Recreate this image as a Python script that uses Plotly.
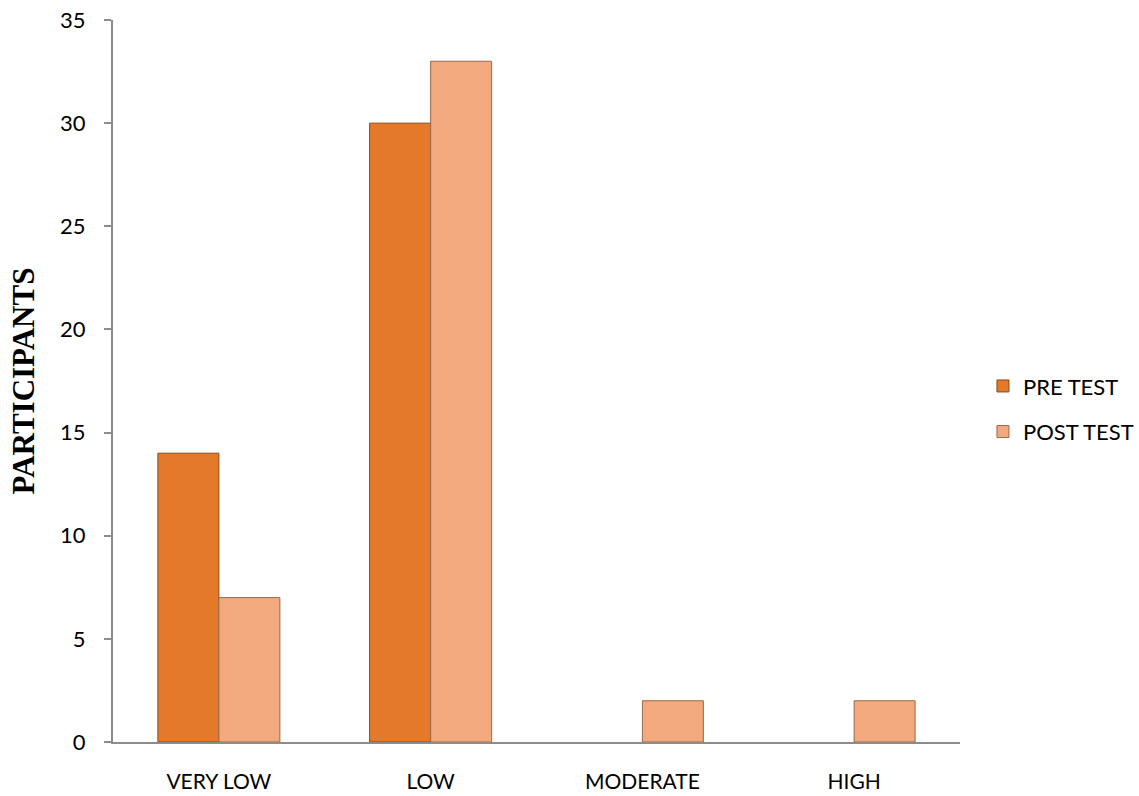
import plotly.graph_objects as go

categories = ["VERY LOW", "LOW", "MODERATE", "HIGH"]
pre_test = [14, 30, 0, 0]
post_test = [7, 33, 2, 2]
y_ticks = [0, 5, 10, 15, 20, 25, 30, 35]

FONT = "Lato"

def edge_widths(vals):
    return [1 if v else 0 for v in vals]

fig = go.Figure()
fig.add_trace(go.Bar(
    name="PRE TEST", x=categories, y=pre_test, legendgroup="pre",
    marker=dict(color="#E5792A", line=dict(color="#8A4A14", width=edge_widths(pre_test))),
))
fig.add_trace(go.Bar(
    name="POST TEST", x=categories, y=post_test, legendgroup="post",
    marker=dict(color="#F2A97E", line=dict(color="#9A6A4C", width=edge_widths(post_test))),
))

fig.update_layout(
    width=1139, height=796,
    margin=dict(l=113, r=179, t=20, b=54, autoexpand=False),
    plot_bgcolor="white", paper_bgcolor="white",
    barmode="group", bargap=0.424, bargroupgap=0,
    font=dict(family=FONT, size=22, color="black"),
    showlegend=True,
    legend=dict(x=0.863, y=0.486, xref="container", yref="container",
                xanchor="left", yanchor="middle",
                font=dict(family=FONT, size=22, color="black"),
                itemwidth=30, tracegroupgap=14),
    xaxis=dict(showline=True, linecolor="#8C8C8C", linewidth=2,
               ticks="", ticklabelstandoff=20, showgrid=False, automargin=False,
               tickfont=dict(family=FONT, size=21)),
    yaxis=dict(range=[0, 35], tickvals=y_ticks, showline=True,
               linecolor="#8C8C8C", linewidth=2, ticks="outside",
               ticklen=7, tickcolor="#8C8C8C", tickwidth=2,
               ticklabelstandoff=14,
               showgrid=False, zeroline=False, automargin=False,
               tickfont=dict(family=FONT, size=22),
               title=dict(text="<b>PARTICIPANTS</b>", standoff=16,
                          font=dict(family="Liberation Serif", size=31))),
)

fig.write_html("out.html")
